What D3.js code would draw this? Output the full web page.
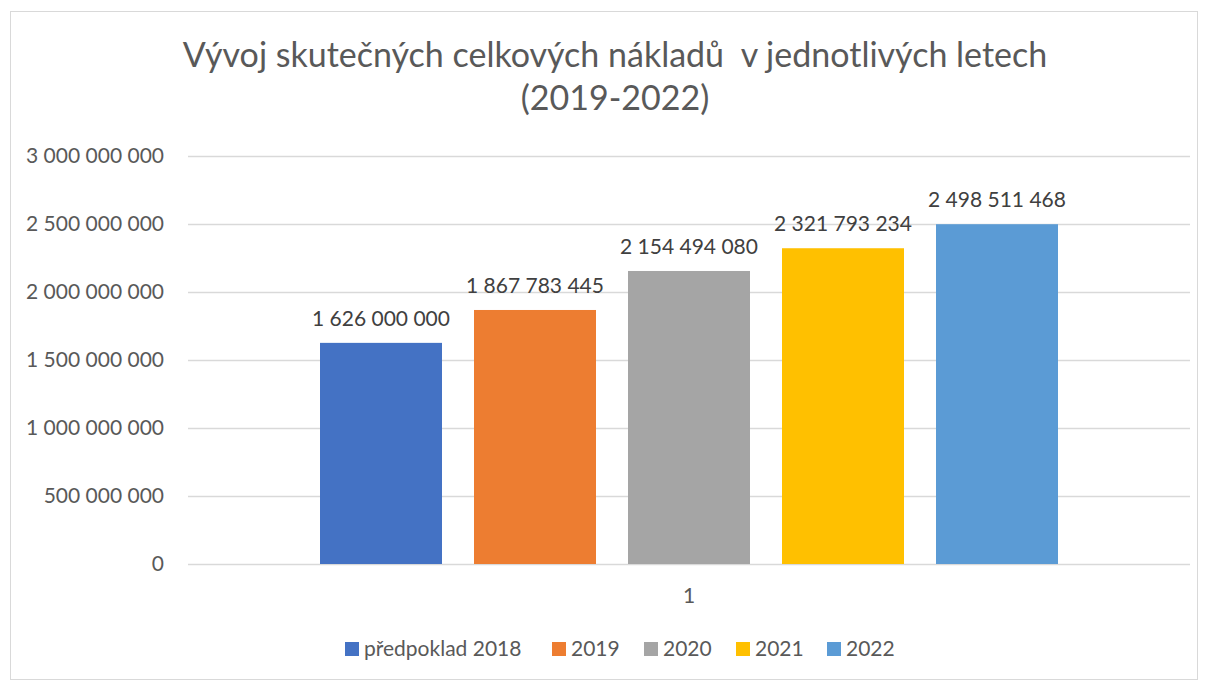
<!DOCTYPE html>
<html>
<head>
<meta charset="utf-8">
<script src="https://cdn.jsdelivr.net/npm/d3@7"></script>
<style>
  body { margin: 0; background: #fff; }
  svg { display: block; font-family: Lato, "Open Sans", sans-serif; }
</style>
</head>
<body>
<svg width="1208" height="680"></svg>
<script>
// chart data
var titleLines = ["Vývoj skutečných celkových nákladů  v jednotlivých letech", "(2019-2022)"];
var categories = ["1"];
var seriesNames = ["předpoklad 2018", "2019", "2020", "2021", "2022"];
var seriesValues = [1626000000, 1867783445, 2154494080, 2321793234, 2498511468];
var seriesColors = ["#4472C4", "#ED7D31", "#A5A5A5", "#FFC000", "#5B9BD5"];
var yTicks = [0, 500000000, 1000000000, 1500000000, 2000000000, 2500000000, 3000000000];

var svg = d3.select("svg"),
    width = +svg.attr("width"),
    height = +svg.attr("height");

var margin = {left: 188, right: 18, top: 156, bottom: 116};
var fontSize = "21px";

// number format with spaces as thousands separator
var fmt = function(v) { return d3.format(",")(v).replace(/,/g, " "); };

// outer frame
svg.append("rect")
    .attr("x", 10.5).attr("y", 11.5)
    .attr("width", 1187).attr("height", 668)
    .attr("fill", "#fff")
    .attr("stroke", "#d9d9d9");

// title
svg.append("g").selectAll("text")
    .data(titleLines)
  .enter().append("text")
    .attr("x", 615)
    .attr("y", function(d, i) { return 67 + i * 43; })
    .attr("text-anchor", "middle")
    .attr("fill", "#595959")
    .style("font-size", "34px")
    .style("white-space", "pre")
    .text(function(d) { return d; });

var y = d3.scaleLinear()
    .domain([0, 3000000000])
    .range([height - margin.bottom, margin.top]);

var x0 = d3.scaleBand()
    .domain(categories)
    .range([margin.left, width - margin.right]);

// group of bars takes the middle of the category band
var x1 = d3.scaleBand()
    .domain(seriesNames)
    .range([132, x0.bandwidth() - 132])
    .paddingInner(32 / 154);

// gridlines
svg.append("g").selectAll("line")
    .data(yTicks)
  .enter().append("line")
    .attr("x1", margin.left)
    .attr("x2", width - margin.right)
    .attr("y1", function(d) { return Math.round(y(d)) + 0.5; })
    .attr("y2", function(d) { return Math.round(y(d)) + 0.5; })
    .attr("stroke", "#d9d9d9")
    .attr("stroke-width", 1.3);

// y axis labels
var yAxis = d3.axisLeft(y)
    .tickValues(yTicks)
    .tickFormat(fmt)
    .tickSize(0)
    .tickPadding(0);

var gy = svg.append("g")
    .attr("transform", "translate(164,0)")
    .call(yAxis);
gy.select(".domain").remove();
gy.selectAll("text")
    .attr("fill", "#595959")
    .style("font-family", "Lato, 'Open Sans', sans-serif")
    .style("font-size", fontSize);

// bars
var group = svg.append("g").selectAll("g")
    .data(categories)
  .enter().append("g")
    .attr("transform", function(d) { return "translate(" + x0(d) + ",0)"; });

group.selectAll("rect")
    .data(seriesNames.map(function(n, i) { return {name: n, value: seriesValues[i], color: seriesColors[i]}; }))
  .enter().append("rect")
    .attr("x", function(d) { return x1(d.name); })
    .attr("y", function(d) { return y(d.value); })
    .attr("width", x1.bandwidth())
    .attr("height", function(d) { return y(0) - y(d.value); })
    .attr("fill", function(d) { return d.color; });

// data labels
group.selectAll("text.lbl")
    .data(seriesNames.map(function(n, i) { return {name: n, value: seriesValues[i]}; }))
  .enter().append("text")
    .attr("class", "lbl")
    .attr("x", function(d) { return x1(d.name) + x1.bandwidth() / 2; })
    .attr("y", function(d) { return y(d.value) - 17; })
    .attr("text-anchor", "middle")
    .attr("fill", "#404040")
    .style("font-size", fontSize)
    .text(function(d) { return fmt(d.value); });

// x axis category label
var xAxis = d3.axisBottom(x0).tickSize(0).tickPadding(24);
var gx = svg.append("g")
    .attr("transform", "translate(0," + y(0) + ")")
    .call(xAxis);
gx.select(".domain").remove();
gx.selectAll("text")
    .attr("fill", "#595959")
    .style("font-family", "Lato, 'Open Sans', sans-serif")
    .style("font-size", fontSize);

// legend
var legendX = [345, 552, 644, 736, 827];
var legend = svg.append("g").selectAll("g")
    .data(seriesNames)
  .enter().append("g")
    .attr("transform", function(d, i) { return "translate(" + legendX[i] + ",642)"; });

legend.append("rect")
    .attr("width", 14).attr("height", 14)
    .attr("fill", function(d, i) { return seriesColors[i]; });

legend.append("text")
    .attr("x", 19)
    .attr("y", 14)
    .attr("fill", "#595959")
    .style("font-size", fontSize)
    .text(function(d) { return d; });
</script>
</body>
</html>
